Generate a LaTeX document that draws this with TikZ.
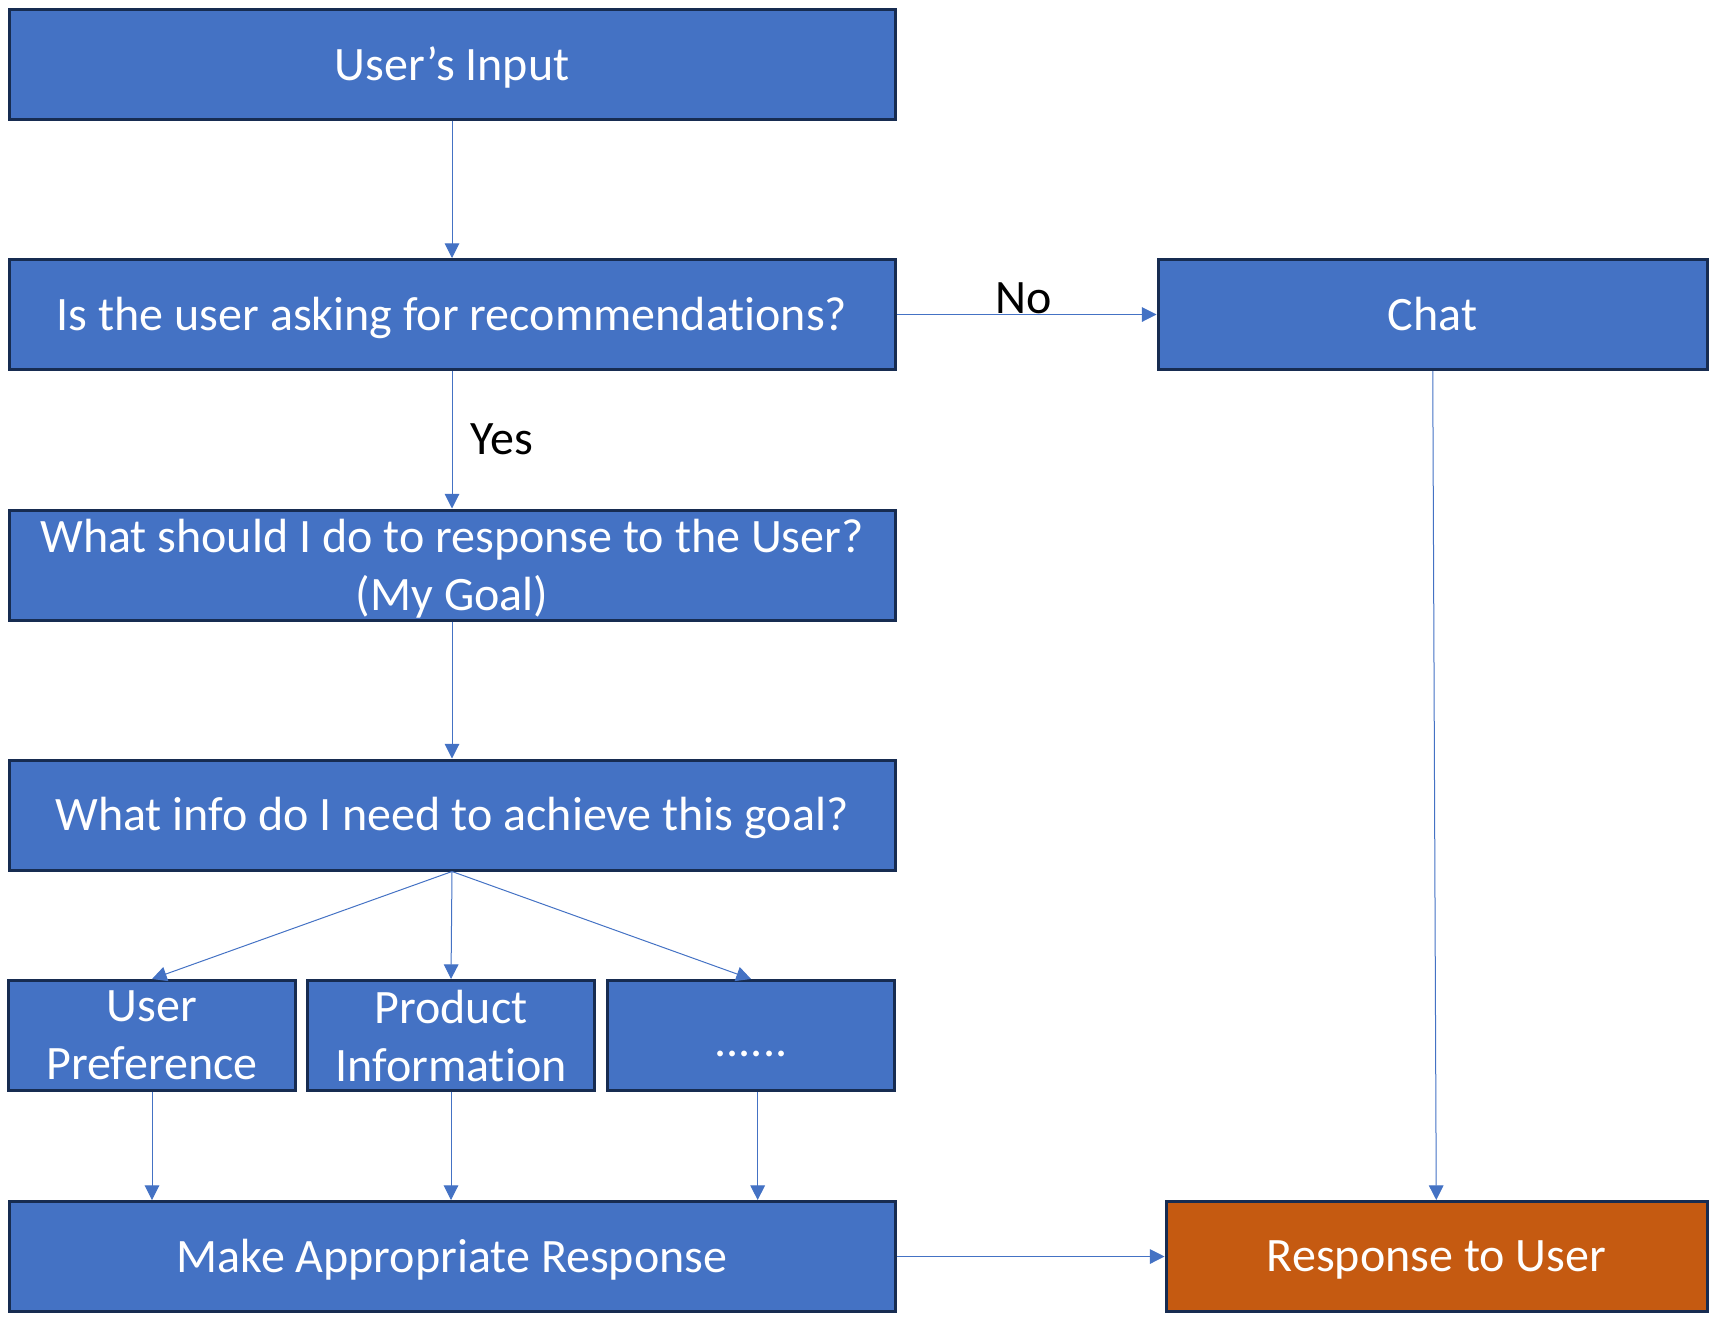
\documentclass[tikz,border=0pt]{standalone}
\usepackage{fontspec}
\setmainfont{Carlito}[Ligatures=CommonOff]
\usetikzlibrary{arrows.meta}
\definecolor{boxblue}{RGB}{68,114,196}
\definecolor{boxline}{RGB}{23,44,81}
\definecolor{boxorange}{RGB}{197,90,17}
\newcommand{\lw}[1]{\raisebox{-2.5pt}[\height][\depth]{#1}}
\tikzset{every picture/.style={line width=0.75pt},
  flowbox/.style={draw=boxline, line width=2.25pt, fill=boxblue, text=white, align=center, inner sep=2pt, font=\fontsize{36}{43.5}\selectfont},
  widebox/.style={flowbox, minimum width=664.5pt, minimum height=82.5pt},
  smallbox/.style={flowbox, minimum width=215.25pt, minimum height=82.5pt},
  flowline/.style={draw=boxblue, line width=0.75pt, -{Triangle[length=11pt,width=11pt]}},
  flowlabel/.style={text=black, font=\fontsize{36}{43.5}\selectfont, inner sep=0pt}}

\begin{document}
\begin{tikzpicture}[x=0.75pt,y=0.75pt,yscale=-1,xscale=1]
	\useasboundingbox (0,0) rectangle (1715,1321);

	%Shape: Rectangle [id:input]
	\node[widebox] (input) at (452,64) {\lw{User’s Input}};
	%Shape: Rectangle [id:ask]
	\node[widebox] (ask) at (452,314.5) {\lw{Is the user asking for recommendations?}};
	%Shape: Rectangle [id:goal]
	\node[widebox] (goal) at (452,565) {\lw{What should I do to response to the User?}\\\lw{(My Goal)}};
	%Shape: Rectangle [id:need]
	\node[widebox] (need) at (452,815) {\lw{What info do I need to achieve this goal?}};
	%Shape: Rectangle [id:pref]
	\node[smallbox] (pref) at (152,1035.5) {User\\Preference};
	%Shape: Rectangle [id:info]
	\node[smallbox] (info) at (451,1035.5) {Product\\Information};
	%Shape: Rectangle [id:dots]
	\node[smallbox] (dots) at (751,1035.5) {\raisebox{-16pt}[0pt][0pt]{......}};
	%Shape: Rectangle [id:make]
	\node[widebox] (make) at (452,1256.5) {\lw{Make Appropriate Response}};
	%Shape: Rectangle [id:chat]
	\node[flowbox, minimum width=411.75pt, minimum height=82.5pt] (chat) at (1432.5,314.5) {Chat};
	%Shape: Rectangle [id:resp]
	\node[flowbox, fill=boxorange, minimum width=405.75pt, minimum height=82.5pt] (resp) at (1436.5,1256.5) {\lw{Response to User}};

	%Straight Lines
	\draw[flowline] (input) -- (ask);
	\draw[flowline] (ask) -- node[flowlabel, above, pos=0.49] {No} (chat);
	\draw[flowline] (ask) -- node[flowlabel, right, xshift=13.5pt] {Yes} (goal);
	\draw[flowline] (goal) -- (need);
	\draw[flowline] (need.south) -- (pref.north);
	\draw[flowline] (need.south) -- (info.north);
	\draw[flowline] (need.south) -- (dots.north);
	\draw[flowline] (pref.south) -- (pref.south |- make.north);
	\draw[flowline] (info.south) -- (info.south |- make.north);
	\draw[flowline] ([xshift=5pt]dots.south) -- ([xshift=5pt]dots.south |- make.north);
	\draw[flowline] (make) -- (resp);
	\draw[flowline] (chat) -- (resp);

\end{tikzpicture}
\end{document}
